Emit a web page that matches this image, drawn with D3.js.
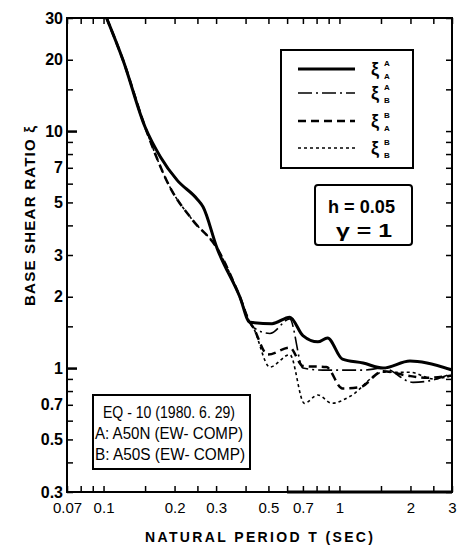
<!DOCTYPE html>
<html><head><meta charset="utf-8">
<script src="https://cdn.jsdelivr.net/npm/d3@7"></script>
<style>body{margin:0;background:#fff} svg{display:block}</style>
</head><body><svg id="c" width="457" height="546"></svg>
<script>
// ---- tick data ----
const xTickValues = [0.07,0.08,0.09,0.1,0.15,0.2,0.25,0.3,0.4,0.5,0.6,0.7,0.8,0.9,1,1.5,2,2.5,3];
const xTickLabels = ["0.07","0.1","0.2","0.3","0.5","0.7","1","2","3"];
const yTickValues = [30,20,15,10,9,8,7,6,5,4,3,2,1.5,1,0.9,0.8,0.7,0.6,0.5,0.4,0.3];
const yTickLabels = ["30","20","10","7","5","3","2","1","0.7","0.5","0.3"];

// ---- series data (natural period T [sec], base shear ratio) ----
const periodAA = [0.103,0.121,0.15,0.174,0.205,0.249,0.264,0.303,0.378,0.417,0.518,0.616,0.70,0.81,0.89,1.03,1.26,1.53,1.99,2.35,3.0];
const ratioAA  = [30,19.9,10.4,7.8,6.21,5.17,4.79,3.2,2.0,1.56,1.54,1.64,1.37,1.29,1.34,1.09,1.05,1.0,1.07,1.05,0.98];

const periodAB = [0.103,0.121,0.15,0.174,0.205,0.249,0.264,0.303,0.378,0.417,0.43,0.507,0.616,0.70,0.85,1.0,1.26,1.53,2.05,2.35,3.0];
const ratioAB  = [30,19.9,10.4,7.8,6.21,5.17,4.79,3.2,2.0,1.56,1.49,1.40,1.61,1.0,0.98,0.98,0.98,1.0,0.87,0.88,0.95];

const periodBA = [0.103,0.121,0.15,0.191,0.239,0.303,0.378,0.417,0.43,0.497,0.616,0.70,0.88,1.03,1.22,1.53,1.93,2.35,3.0];
const ratioBA  = [30,19.9,10.4,5.81,4.2,3.2,2.0,1.56,1.49,1.14,1.22,1.02,1.01,0.82,0.83,0.97,0.93,0.91,0.93];

const periodBB = [0.103,0.121,0.15,0.191,0.239,0.303,0.378,0.417,0.43,0.507,0.616,0.71,0.81,0.93,1.11,1.53,1.99,2.5,3.0];
const ratioBB  = [30,19.9,10.4,5.81,4.2,3.2,2.0,1.56,1.49,1.01,1.14,0.71,0.77,0.71,0.76,0.96,0.96,0.90,0.93];

const legendSup = ["A","A","B","B"];
const legendSub = ["A","B","A","B"];
const noteLines = ["EQ - 10 (1980. 6. 29)","A: A50N (EW- COMP)","B: A50S (EW- COMP)"];
const paramLines = ["h = 0.05","γ = 1"];

const FONT = "'Liberation Sans', Arial, sans-serif";
const svg = d3.select("#c");
const L=67,R=452,T=18,B=492;
const x = d3.scaleLog().domain([0.07,3]).range([L,R]);
const y = d3.scaleLog().domain([0.3,30]).range([B,T]);

const series = [
  {t:periodAA, v:ratioAA, w:3,   dash:null},
  {t:periodAB, v:ratioAB, w:1.6, dash:"14,4,2,4"},
  {t:periodBA, v:ratioBA, w:2.5, dash:"8,5"},
  {t:periodBB, v:ratioBB, w:1.6, dash:"3,3"}
];

svg.append("clipPath").attr("id","clip").append("rect")
  .attr("x",L).attr("y",T).attr("width",R-L).attr("height",B-T);

const line = d3.line().x(d=>x(d[0])).y(d=>y(d[1])).curve(d3.curveMonotoneX);
const g = svg.append("g").attr("clip-path","url(#clip)");
series.forEach(s=>{
  g.append("path").datum(s.t.map((t,i)=>[t,s.v[i]]))
   .attr("d",line).attr("fill","none").attr("stroke","#000")
   .attr("stroke-width",s.w).attr("stroke-dasharray",s.dash)
   .attr("stroke-linejoin","round");
});

// axes
const fmt = d=>String(+d.toPrecision(3));
const yMajor = new Set([10,1]);
function styleAxis(sel){
  sel.select(".domain").remove();
  sel.selectAll("line").attr("stroke","#000").attr("stroke-width",1.5);
}
const xb = svg.append("g").attr("transform",`translate(0,${B})`)
  .call(d3.axisBottom(x).tickValues(xTickValues).tickSizeInner(-6).tickSizeOuter(0).tickPadding(10)
    .tickFormat(d=>xTickLabels.includes(fmt(d))?fmt(d):""));
styleAxis(xb);
xb.selectAll("text").attr("font-family",FONT).attr("font-size",15).attr("fill","#000");
const xt = svg.append("g").attr("transform",`translate(0,${T})`)
  .call(d3.axisTop(x).tickValues(xTickValues).tickSizeInner(-6).tickSizeOuter(0).tickFormat(""));
styleAxis(xt);

const yl = svg.append("g").attr("transform",`translate(${L},0)`)
  .call(d3.axisLeft(y).tickValues(yTickValues).tickSizeInner(-6).tickSizeOuter(0).tickPadding(4)
    .tickFormat(d=>yTickLabels.includes(fmt(d))?fmt(d):""));
styleAxis(yl);
yl.selectAll(".tick").filter(d=>yMajor.has(d)).select("line").attr("x2",10).attr("stroke-width",2.5);
yl.selectAll("text").attr("font-family",FONT).attr("font-size",16).attr("font-weight","bold").attr("fill","#000");
const yr = svg.append("g").attr("transform",`translate(${R},0)`)
  .call(d3.axisRight(y).tickValues(yTickValues).tickSizeInner(-6).tickSizeOuter(0).tickFormat(""));
styleAxis(yr);

// frame
svg.append("rect").attr("x",L).attr("y",T).attr("width",R-L).attr("height",B-T)
  .attr("fill","none").attr("stroke","#000").attr("stroke-width",2);
svg.append("line").attr("x1",x(0.6)).attr("x2",R).attr("y1",B).attr("y2",B)
  .attr("stroke","#000").attr("stroke-width",3);

// axis titles
svg.append("text").attr("x",259).attr("y",542).attr("text-anchor","middle")
  .attr("font-family",FONT).attr("font-size",14).attr("font-weight","bold")
  .attr("textLength",228).attr("lengthAdjust","spacing").text("NATURAL PERIOD T (SEC)");
svg.append("text").attr("transform","translate(35,216) rotate(-90)").attr("text-anchor","middle")
  .attr("font-family",FONT).attr("font-size",15).attr("font-weight","bold")
  .attr("textLength",180).attr("lengthAdjust","spacing").text("BASE SHEAR RATIO ξ");

// legend
svg.append("rect").attr("x",281).attr("y",50).attr("width",132).attr("height",118)
  .attr("fill","#fff").attr("stroke","#000").attr("stroke-width",2);
const rowsY=[69,93,121,148];
series.forEach((s,i)=>{
  svg.append("line").attr("x1",298).attr("x2",355).attr("y1",rowsY[i]).attr("y2",rowsY[i])
    .attr("stroke","#000").attr("stroke-width",s.w).attr("stroke-dasharray",s.dash);
  svg.append("text").attr("x",371).attr("y",rowsY[i]+6).attr("font-family",FONT)
    .attr("font-size",18).attr("font-weight","bold").text("ξ");
  svg.append("text").attr("x",384).attr("y",rowsY[i]-3).attr("font-family",FONT)
    .attr("font-size",8).attr("font-weight","bold").text(legendSup[i]);
  svg.append("text").attr("x",384).attr("y",rowsY[i]+10).attr("font-family",FONT)
    .attr("font-size",8).attr("font-weight","bold").text(legendSub[i]);
});

// parameter box
svg.append("rect").attr("x",315).attr("y",185).attr("width",97).attr("height",60).attr("rx",3)
  .attr("fill","#fff").attr("stroke","#000").attr("stroke-width",2);
svg.append("text").attr("x",328).attr("y",213).attr("font-family",FONT).attr("font-size",19).attr("font-weight","bold")
  .attr("textLength",67).attr("lengthAdjust","spacingAndGlyphs").text(paramLines[0]);
svg.append("text").attr("x",336).attr("y",237).attr("font-family",FONT).attr("font-size",19).attr("font-weight","bold")
  .attr("textLength",56).attr("lengthAdjust","spacingAndGlyphs").text(paramLines[1]);

// note box
svg.append("rect").attr("x",93).attr("y",395).attr("width",157).attr("height",74)
  .attr("fill","#fff").attr("stroke","#000").attr("stroke-width",2);
const noteX=[103,95,95], noteW=[132,148,150], noteY=[418,439,460];
noteLines.forEach((t,i)=>{
  svg.append("text").attr("x",noteX[i]).attr("y",noteY[i]).attr("font-family",FONT).attr("font-size",16)
    .attr("textLength",noteW[i]).attr("lengthAdjust","spacingAndGlyphs").text(t);
});
</script></body></html>
